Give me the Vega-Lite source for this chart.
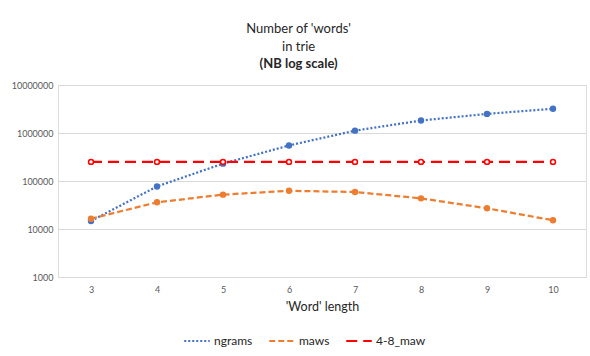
{
  "$schema": "https://vega.github.io/schema/vega-lite/v6.json",
  "autosize": "none",
  "width": 528,
  "height": 192,
  "padding": {"left": 58, "top": 85, "right": 4, "bottom": 79},
  "background": "white",
  "title": {
    "text": ["Number of 'words'", "in trie"],
    "subtitle": "(NB log scale)",
    "frame": "bounds",
    "anchor": "middle",
    "font": "Lato",
    "fontSize": 13,
    "fontWeight": "normal",
    "color": "#262626",
    "lineHeight": 18,
    "subtitleFont": "Lato",
    "subtitleFontSize": 13,
    "subtitleFontWeight": "bold",
    "subtitleColor": "#262626",
    "subtitlePadding": 4,
    "offset": 10
  },
  "data": {
    "values": [
      {"len": 3, "series": "ngrams", "count": 14700},
      {"len": 4, "series": "ngrams", "count": 77000},
      {"len": 5, "series": "ngrams", "count": 230000},
      {"len": 6, "series": "ngrams", "count": 550000},
      {"len": 7, "series": "ngrams", "count": 1120000},
      {"len": 8, "series": "ngrams", "count": 1820000},
      {"len": 9, "series": "ngrams", "count": 2500000},
      {"len": 10, "series": "ngrams", "count": 3200000},
      {"len": 3, "series": "maws", "count": 16400},
      {"len": 4, "series": "maws", "count": 36000},
      {"len": 5, "series": "maws", "count": 52000},
      {"len": 6, "series": "maws", "count": 62500},
      {"len": 7, "series": "maws", "count": 59000},
      {"len": 8, "series": "maws", "count": 43500},
      {"len": 9, "series": "maws", "count": 27000},
      {"len": 10, "series": "maws", "count": 15200},
      {"len": 3, "series": "4-8_maw", "count": 250000},
      {"len": 4, "series": "4-8_maw", "count": 250000},
      {"len": 5, "series": "4-8_maw", "count": 250000},
      {"len": 6, "series": "4-8_maw", "count": 250000},
      {"len": 7, "series": "4-8_maw", "count": 250000},
      {"len": 8, "series": "4-8_maw", "count": 250000},
      {"len": 9, "series": "4-8_maw", "count": 250000},
      {"len": 10, "series": "4-8_maw", "count": 250000}
    ]
  },
  "encoding": {
    "x": {
      "field": "len",
      "type": "ordinal",
      "scale": {"type": "point", "padding": 0.5},
      "axis": {
        "title": "'Word' length",
        "labelAngle": 0,
        "labelFont": "Lato",
        "labelFontSize": 9,
        "labelColor": "#595959",
        "labelPadding": 8,
        "domain": false,
        "ticks": false,
        "grid": false,
        "titleFont": "Lato",
        "titleFontSize": 12.5,
        "titleFontWeight": "normal",
        "titleColor": "#262626",
        "titlePadding": 6
      }
    },
    "y": {
      "field": "count",
      "type": "quantitative",
      "scale": {"type": "log", "domain": [1000, 10000000], "nice": false},
      "axis": {
        "title": null,
        "values": [1000, 10000, 100000, 1000000, 10000000],
        "format": "d",
        "labelFont": "Lato",
        "labelFontSize": 9,
        "labelColor": "#595959",
        "labelPadding": 5,
        "domain": false,
        "ticks": false,
        "grid": true,
        "gridColor": "#d9d9d9",
        "gridWidth": 1
      }
    }
  },
  "layer": [
    {
      "mark": {"type": "line", "strokeWidth": 2.25},
      "encoding": {
        "color": {
          "field": "series",
          "type": "nominal",
          "scale": {"domain": ["ngrams", "maws", "4-8_maw"], "range": ["#4472C4", "#ED7D31", "#FF0000"]},
          "legend": {
            "title": null,
            "orient": "none",
            "legendX": 125,
            "legendY": 242,
            "direction": "horizontal",
            "symbolType": "stroke",
            "symbolSize": 650,
            "symbolStrokeWidth": 2,
            "labelFont": "Lato",
            "labelFontSize": 12,
            "labelColor": "#262626",
            "labelOffset": 3,
            "columnPadding": 12
          }
        },
        "strokeDash": {
          "field": "series",
          "type": "nominal",
          "scale": {"domain": ["ngrams", "maws", "4-8_maw"], "range": [[2, 2], [6, 3], [11, 6]]},
          "legend": {
            "title": null,
            "orient": "none",
            "legendX": 125,
            "legendY": 242,
            "direction": "horizontal",
            "symbolType": "stroke",
            "symbolSize": 650,
            "symbolStrokeWidth": 2,
            "labelFont": "Lato",
            "labelFontSize": 12,
            "labelColor": "#262626",
            "labelOffset": 3,
            "columnPadding": 12
          }
        }
      }
    },
    {
      "mark": {"type": "point", "filled": false, "opacity": 1, "strokeWidth": 1.5, "size": 24},
      "encoding": {
        "stroke": {
          "field": "series",
          "type": "nominal",
          "scale": {"domain": ["ngrams", "maws", "4-8_maw"], "range": ["#4472C4", "#ED7D31", "#FF0000"]},
          "legend": null
        },
        "fill": {
          "field": "series",
          "type": "nominal",
          "scale": {"domain": ["ngrams", "maws", "4-8_maw"], "range": ["#4472C4", "#ED7D31", "#FFFFFF"]},
          "legend": null
        }
      }
    }
  ]
}
